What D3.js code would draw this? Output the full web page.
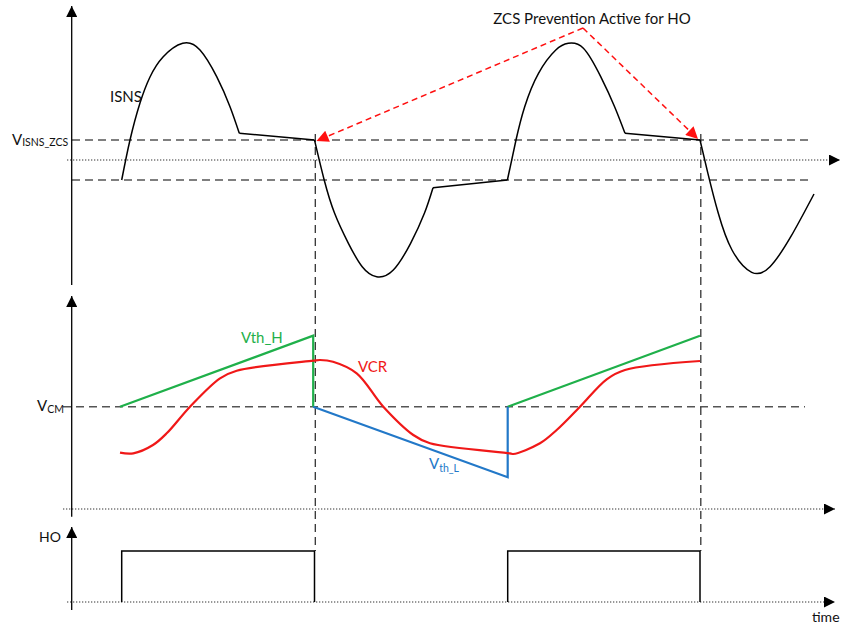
<!DOCTYPE html>
<html lang="en">
<head>
<meta charset="utf-8">
<title>ZCS prevention timing</title>
<script src="https://d3js.org/d3.v7.min.js"></script>
<style>
body { margin: 0; background: #fff; }
text { font-family: Lato, "Open Sans", sans-serif; }
</style>
</head>
<body>
<script>
// values: t = time units, v = signal units
var isnsZcs = 20, isnsNeg = -20;
var isnsArcs = [
  [[50.7,-20],[59,20],[69,57],[79,83],[92,103],[111.7,116.7],[129,110],[145.7,83.3],[159,53.3],[168.3,26.7]],
  [[243.5,20],[253.2,-20],[263.6,-53.3],[277.4,-83.3],[291.2,-106.7],[305.7,-116.7],[322.3,-110],[339.6,-83.3],[353.4,-53.3],[362,-27.7]],
  [[436.4,-20],[445,20],[453.7,53.3],[467.5,86.7],[484.8,110],[497.3,116.7],[512.4,111.7],[529.7,83.3],[543.6,53.3],[554,26.7]],
  [[629,20],[636.9,-13.3],[647.3,-53.3],[661,-90],[680.7,-112.3],[699,-106.7],[719.8,-76.7],[743,-34]]
];
var isnsFlats = [
  [[168.3,26.7],[243.5,20]],
  [[362,-27.7],[436.4,-20]],
  [[554,26.7],[629,20]]
];

var vcm = 102.3;
var vthH = [
  [[49,102.3],[242.2,173.3],[242.2,102.3]],
  [[436.7,102.3],[629,173.3]]
];
var vthL = [[242.2,102.3],[436.7,31.7],[436.7,102.3]];
var vcr = [[49,56.3],[62.3,55.7],[82,64],[95.7,75.7],[119,102.3],[149,130.7],[165.7,138.3],
  [242.3,148.3],[249,149],[262,147.3],[285.7,135.7],[312.3,102.3],[342.3,74],[359,65.7],
  [439,55.7],[442.3,55],[469,65.7],[485.7,79],[509,102.3],[535.7,129.7],[554,139],[629,148]];

var hoPulses = [[50.7,243.5],[436.7,629]];
var zcsEvents = [243.5, 629];
var annotApex = [512, 132];

var width = 842, height = 625;

var x = d3.scaleLinear().domain([0, 770]).range([71, 841]);
var yTop = d3.scaleLinear().domain([-125, 155]).range([285, 5]);
var yMid = d3.scaleLinear().domain([0, 213]).range([509, 296]);
var yHo = d3.scaleLinear().domain([0, 1]).range([602, 551]);

var svg = d3.select("body").append("svg")
  .attr("width", width)
  .attr("height", height);

svg.append("rect").attr("width", width).attr("height", height).attr("fill", "#fff");

var defs = svg.append("defs");
defs.append("marker")
  .attr("id", "arrow")
  .attr("viewBox", "0 0 10 10")
  .attr("refX", 10).attr("refY", 5)
  .attr("markerUnits", "userSpaceOnUse")
  .attr("markerWidth", 13).attr("markerHeight", 11)
  .attr("orient", "auto")
  .append("path").attr("d", "M0,0L10,5L0,10Z").attr("fill", "#000");
defs.append("marker")
  .attr("id", "redArrow")
  .attr("viewBox", "0 0 10 10")
  .attr("refX", 10).attr("refY", 5)
  .attr("markerUnits", "userSpaceOnUse")
  .attr("markerWidth", 14).attr("markerHeight", 12)
  .attr("orient", "auto")
  .append("path").attr("d", "M0,0L10,5L0,10Z").attr("fill", "#ff1010");

function hline(y, x0, x1, style, arrow) {
  var l = svg.append("line")
    .attr("x1", x0).attr("x2", x1)
    .attr("y1", y).attr("y2", y);
  style(l);
  if (arrow) l.attr("marker-end", "url(#arrow)");
  return l;
}
function dashed(l) {
  l.attr("stroke", "#555").attr("stroke-width", 1.4).attr("stroke-dasharray", "8,5");
}
function dotted(l) {
  l.attr("stroke", "#333").attr("stroke-width", 1.2).attr("stroke-dasharray", "1.3,1.7");
}

// reference lines
hline(yTop(isnsZcs), x(1), x(742), dashed);
hline(yTop(isnsNeg), x(1), x(742), dashed);
hline(yTop(0), x(-4), x(769), dotted, true);
hline(yMid(vcm), x(-8), x(734), dashed);
hline(yMid(0), x(-8), x(764), dotted, true);
hline(yHo(0), x(-4), x(764), dotted, true);

// vertical ZCS event lines
zcsEvents.forEach(function(t) {
  svg.append("line")
    .attr("x1", x(t) + 0.8).attr("x2", x(t) + 0.8)
    .attr("y1", yTop(isnsZcs) - 6).attr("y2", yHo(1))
    .attr("stroke", "#333").attr("stroke-width", 1.3)
    .attr("stroke-dasharray", "8,5");
});

// y axes
[[yTop(-125), 6], [yMid(-7.7), 296], [610, 527]].forEach(function(a) {
  svg.append("line")
    .attr("x1", x(0.7)).attr("x2", x(0.7))
    .attr("y1", a[0]).attr("y2", a[1])
    .attr("stroke", "#000").attr("stroke-width", 1.3)
    .attr("marker-end", "url(#arrow)");
});

// ISNS
var curveLine = d3.line()
  .x(function(d) { return x(d[0]); })
  .y(function(d) { return yTop(d[1]); })
  .curve(d3.curveNatural);
var straight = d3.line()
  .x(function(d) { return x(d[0]); })
  .y(function(d) { return yTop(d[1]); });

svg.append("g").selectAll("path")
  .data(isnsArcs).enter().append("path")
  .attr("d", curveLine)
  .attr("fill", "none").attr("stroke", "#000").attr("stroke-width", 1.5);
svg.append("g").selectAll("path")
  .data(isnsFlats).enter().append("path")
  .attr("d", straight)
  .attr("fill", "none").attr("stroke", "#000").attr("stroke-width", 1.5);

// middle panel
var midLine = d3.line()
  .x(function(d) { return x(d[0]); })
  .y(function(d) { return yMid(d[1]); });
svg.append("g").selectAll("path")
  .data(vthH).enter().append("path")
  .attr("d", midLine)
  .attr("fill", "none").attr("stroke", "#1fb04a").attr("stroke-width", 2.2);
svg.append("path")
  .datum(vthL)
  .attr("d", midLine)
  .attr("fill", "none").attr("stroke", "#2278c8").attr("stroke-width", 2.2);
svg.append("path")
  .datum(vcr)
  .attr("d", midLine.curve(d3.curveCatmullRom.alpha(0.5)))
  .attr("fill", "none").attr("stroke", "#f01818").attr("stroke-width", 2.2);

// HO pulses
var hoLine = d3.line()
  .x(function(d) { return x(d[0]); })
  .y(function(d) { return yHo(d[1]); });
svg.append("g").selectAll("path")
  .data(hoPulses).enter().append("path")
  .attr("d", function(p) { return hoLine([[p[0], 0], [p[0], 1], [p[1], 1], [p[1], 0]]); })
  .attr("fill", "none").attr("stroke", "#000").attr("stroke-width", 1.5);

// annotation
zcsEvents.forEach(function(t, i) {
  var tx = x(t) + (i === 0 ? 2 : -2), ty = yTop(isnsZcs) + (i === 0 ? 1 : -1);
  svg.append("line")
    .attr("x1", x(annotApex[0])).attr("y1", yTop(annotApex[1]))
    .attr("x2", tx).attr("y2", ty)
    .attr("stroke", "#ff1010").attr("stroke-width", 1.5)
    .attr("stroke-dasharray", "6,4")
    .attr("marker-end", "url(#redArrow)");
});
svg.append("text")
  .attr("x", x(521)).attr("y", 24)
  .attr("text-anchor", "middle")
  .attr("font-size", 15).attr("fill", "#111")
  .text("ZCS Prevention Active for HO");

// labels
var l1 = svg.append("text").attr("x", 12).attr("y", yTop(isnsZcs) + 5).attr("fill", "#111").attr("font-size", 15);
l1.append("tspan").text("V");
l1.append("tspan").attr("font-size", 10.5).attr("dy", 1).text("ISNS_ZCS");

svg.append("text").attr("x", 110).attr("y", 102)
  .attr("font-size", 15).attr("fill", "#111").text("ISNS");

var l2 = svg.append("text").attr("x", 37).attr("y", yMid(vcm) + 4).attr("fill", "#111").attr("font-size", 15);
l2.append("tspan").text("V");
l2.append("tspan").attr("font-size", 10.5).attr("dy", 2).text("CM");

svg.append("text").attr("x", 241).attr("y", 343)
  .attr("font-size", 15).attr("fill", "#1fb04a").text("Vth_H");
svg.append("text").attr("x", 358).attr("y", 372)
  .attr("font-size", 15).attr("fill", "#f01818").text("VCR");

var l3 = svg.append("text").attr("x", 429).attr("y", 469).attr("fill", "#2278c8").attr("font-size", 15);
l3.append("tspan").text("V");
l3.append("tspan").attr("font-size", 10.5).attr("dy", 3).text("th_L");

svg.append("text").attr("x", 39).attr("y", 542)
  .attr("font-size", 14).attr("fill", "#111").text("HO");
svg.append("text").attr("x", 812).attr("y", 622)
  .attr("font-size", 14).attr("fill", "#111").text("time");
</script>
</body>
</html>
